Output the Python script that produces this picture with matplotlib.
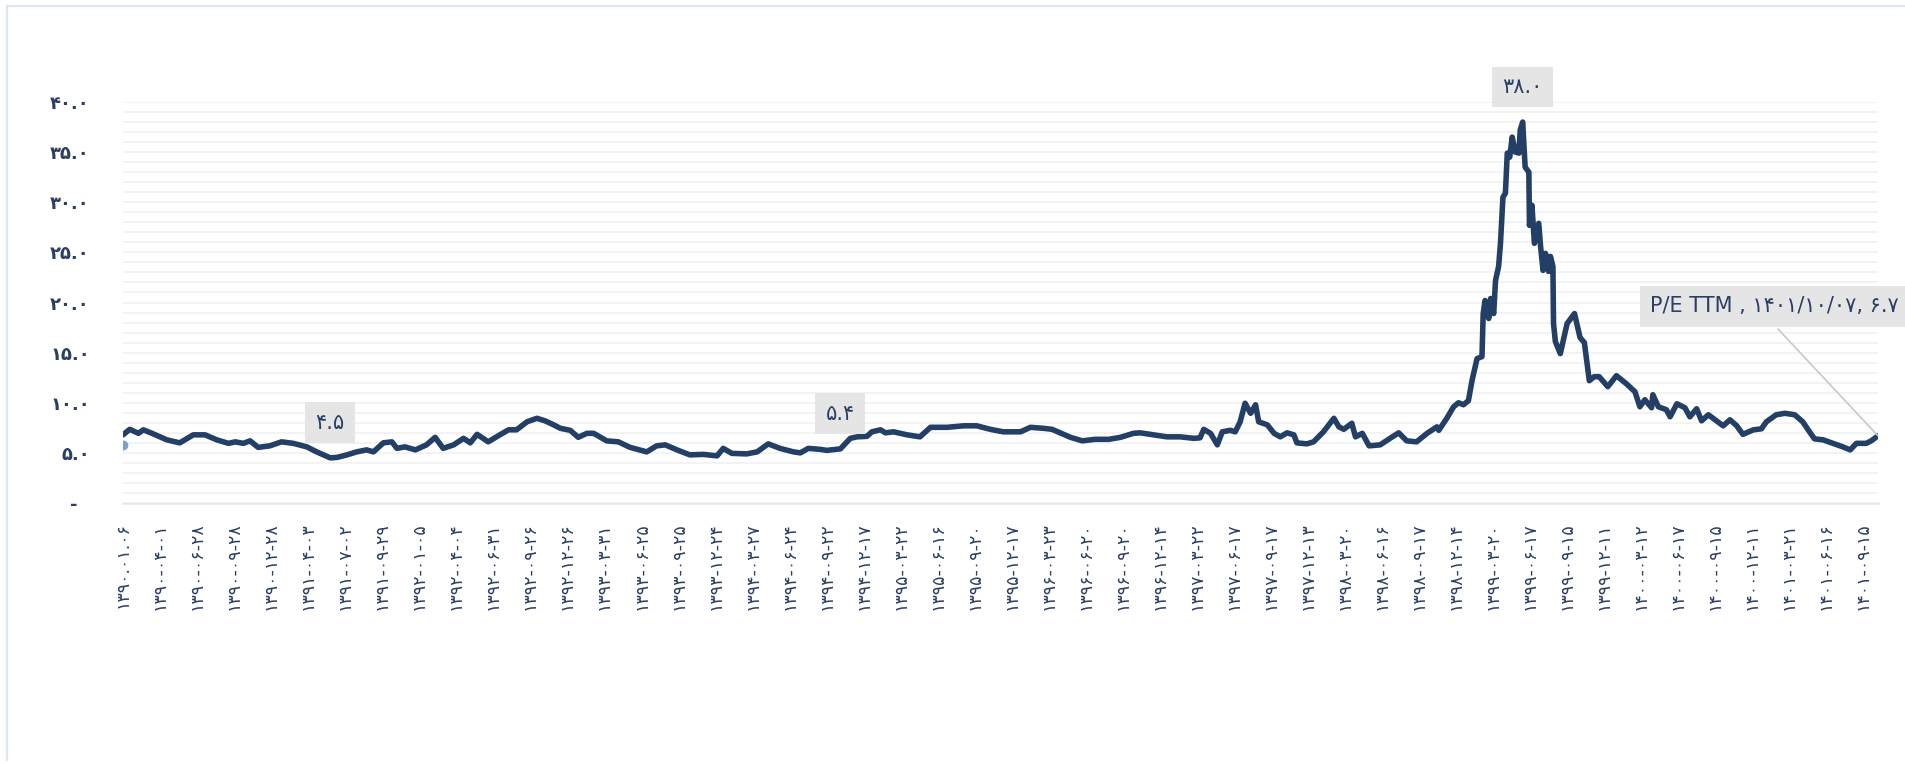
import numpy as np
import matplotlib
matplotlib.use('Agg')
import matplotlib.pyplot as plt
from matplotlib.lines import Line2D

plt.rcParams['font.family'] = ['DejaVu Sans']

FA = str.maketrans('0123456789', '۰۱۲۳۴۵۶۷۸۹')

# ---------------- data ----------------
x_labels = [
    '۱۳۹۰.۰۱.۰۶', '۱۳۹۰-۰۴-۰۱', '۱۳۹۰-۰۶-۲۸', '۱۳۹۰-۰۹-۲۸', '۱۳۹۰-۱۲-۲۸',
    '۱۳۹۱-۰۴-۰۳', '۱۳۹۱-۰۷-۰۲', '۱۳۹۱-۰۹-۲۹', '۱۳۹۲-۰۱-۰۵', '۱۳۹۲-۰۴-۰۴',
    '۱۳۹۲-۰۶-۳۱', '۱۳۹۲-۰۹-۲۶', '۱۳۹۲-۱۲-۲۶', '۱۳۹۳-۰۳-۳۱', '۱۳۹۳-۰۶-۲۵',
    '۱۳۹۳-۰۹-۲۵', '۱۳۹۳-۱۲-۲۴', '۱۳۹۴-۰۳-۲۷', '۱۳۹۴-۰۶-۲۴', '۱۳۹۴-۰۹-۲۲',
    '۱۳۹۴-۱۲-۱۷', '۱۳۹۵-۰۳-۲۲', '۱۳۹۵-۰۶-۱۶', '۱۳۹۵-۰۹-۲۰', '۱۳۹۵-۱۲-۱۷',
    '۱۳۹۶-۰۳-۲۳', '۱۳۹۶-۰۶-۲۰', '۱۳۹۶-۰۹-۲۰', '۱۳۹۶-۱۲-۱۴', '۱۳۹۷-۰۳-۲۲',
    '۱۳۹۷-۰۶-۱۷', '۱۳۹۷-۰۹-۱۷', '۱۳۹۷-۱۲-۱۳', '۱۳۹۸-۰۳-۲۰', '۱۳۹۸-۰۶-۱۶',
    '۱۳۹۸-۰۹-۱۷', '۱۳۹۸-۱۲-۱۴', '۱۳۹۹-۰۳-۲۰', '۱۳۹۹-۰۶-۱۷', '۱۳۹۹-۰۹-۱۵',
    '۱۳۹۹-۱۲-۱۱', '۱۴۰۰-۰۳-۱۲', '۱۴۰۰-۰۶-۱۷', '۱۴۰۰-۰۹-۱۵', '۱۴۰۰-۱۲-۱۱',
    '۱۴۰۱-۰۳-۲۱', '۱۴۰۱-۰۶-۱۶', '۱۴۰۱-۰۹-۱۵',
]
tick_every_days = 60

trade_day = [
    0, 11, 25, 33, 47, 60, 71, 92, 114, 133, 152, 171, 182, 195, 206, 219, 238, 257, 276, 298,
    314, 336, 347, 363, 379, 395, 406, 422, 436, 444, 457, 474, 492, 506, 519, 536, 552, 563, 574, 592,
    611, 625, 638, 655, 671, 684, 698, 709, 725, 738, 752, 763, 784, 803, 822, 849, 865, 879, 898, 919,
    941, 963, 973, 987, 1011, 1028, 1046, 1065, 1087, 1098, 1111, 1130, 1141, 1163, 1179, 1190, 1206, 1214, 1228, 1236,
    1249, 1271, 1292, 1309, 1336, 1363, 1384, 1406, 1427, 1455, 1471, 1492, 1506, 1536, 1555, 1576, 1598, 1617, 1638, 1649,
    1671, 1692, 1714, 1736, 1746, 1752, 1763, 1774, 1782, 1795, 1803, 1811, 1819, 1828, 1836, 1841, 1855, 1866, 1876, 1887,
    1898, 1903, 1919, 1930, 1946, 1963, 1971, 1979, 1992, 1998, 2009, 2020, 2038, 2054, 2068, 2081, 2097, 2114, 2130, 2133,
    2146, 2157, 2165, 2173, 2181, 2187, 2195, 2203, 2205, 2208, 2214, 2217, 2222, 2225, 2230, 2233, 2237, 2241, 2244, 2248,
    2252, 2257, 2263, 2265, 2269, 2273, 2279, 2280, 2284, 2288, 2295, 2298, 2302, 2306, 2311, 2314, 2318, 2319, 2322, 2330,
    2341, 2353, 2362, 2369, 2377, 2385, 2393, 2407, 2421, 2437, 2451, 2459, 2467, 2478, 2480, 2489, 2502, 2508, 2519, 2532,
    2540, 2551, 2559, 2570, 2581, 2594, 2605, 2616, 2626, 2643, 2656, 2664, 2680, 2694, 2710, 2723, 2734, 2742, 2756, 2772,
    2788, 2800, 2810, 2826, 2834, 2845,
]
pe_ttm = [
    6.8, 7.35, 6.95, 7.3, 6.95, 6.6, 6.3, 6.0, 6.8, 6.8, 6.3, 5.95, 6.1, 5.95, 6.2, 5.55, 5.7, 6.1, 5.95, 5.6,
    5.1, 4.5, 4.55, 4.8, 5.1, 5.3, 5.1, 6.0, 6.1, 5.45, 5.6, 5.3, 5.8, 6.55, 5.45, 5.8, 6.45, 6.0, 6.85, 6.1,
    6.8, 7.3, 7.3, 8.1, 8.45, 8.2, 7.8, 7.45, 7.25, 6.55, 6.95, 6.95, 6.2, 6.1, 5.55, 5.1, 5.7, 5.8, 5.3, 4.8,
    4.85, 4.7, 5.45, 4.95, 4.9, 5.1, 5.9, 5.45, 5.1, 5.0, 5.45, 5.35, 5.25, 5.4, 6.45, 6.6, 6.65, 7.1, 7.3, 7.0,
    7.1, 6.8, 6.6, 7.55, 7.55, 7.7, 7.7, 7.35, 7.1, 7.1, 7.55, 7.45, 7.35, 6.55, 6.2, 6.35, 6.35, 6.55, 6.95, 7.0,
    6.8, 6.6, 6.6, 6.45, 6.5, 7.35, 6.95, 5.8, 7.1, 7.25, 7.1, 8.1, 9.95, 8.95, 9.8, 8.1, 7.8, 6.95, 6.6, 7.0,
    6.8, 6.0, 5.9, 6.1, 7.1, 8.45, 7.6, 7.35, 7.95, 6.6, 6.95, 5.7, 5.8, 6.45, 7.0, 6.2, 6.1, 6.95, 7.6, 7.25,
    8.45, 9.6, 10.0, 9.8, 10.2, 12.25, 14.4, 14.6, 18.9, 20.2, 18.4, 20.4, 18.9, 22.2, 23.6, 25.9, 30.5, 30.9, 34.9, 34.5,
    36.5, 35.0, 34.9, 37.2, 38.0, 33.5, 33.0, 27.7, 29.7, 25.9, 27.9, 25.6, 23.2, 24.9, 23.1, 24.6, 23.6, 17.9, 16.1, 14.9,
    17.9, 18.9, 16.5, 16.0, 12.2, 12.6, 12.6, 11.6, 12.7, 11.9, 11.1, 9.6, 10.3, 9.5, 10.8, 9.6, 9.3, 8.6, 9.9, 9.5,
    8.6, 9.4, 8.2, 8.8, 8.3, 7.7, 8.3, 7.7, 6.85, 7.3, 7.4, 8.1, 8.8, 8.95, 8.8, 8.1, 7.1, 6.4, 6.3, 5.95,
    5.6, 5.3, 5.95, 5.95, 6.2, 6.7,
]
second_series_start = 5.8          # light blue point at the very start
annotated_days = [336, 1163, 2269]  # labelled points
last_date = '۱۴۰۱/۱۰/۰۷'
series_name = 'P/E TTM'
y_tick_values = [0, 5, 10, 15, 20, 25, 30, 35, 40]

# ---------------- styling ----------------
NAVY = '#243f66'
TEXT = '#2b3f63'
W, H = 1906, 764
fig = plt.figure(figsize=(W / 100, H / 100), dpi=100)
fig.patch.set_facecolor('white')

# outer frame (light blue)
fig.add_artist(Line2D([7 / W, 7 / W], [1 - 5.5 / H, 1 - 760 / H], transform=fig.transFigure,
                      color='#dfe7f4', lw=1.6))
fig.add_artist(Line2D([7 / W, 1.0], [1 - 5.5 / H, 1 - 5.5 / H], transform=fig.transFigure,
                      color='#dfe7f4', lw=1.6))

ax = fig.add_axes([123 / W, 1 - 503 / H, (1878 - 123) / W, (503 - 102) / H])
ax.set_facecolor('white')
for s in ax.spines.values():
    s.set_visible(False)

x = np.array(trade_day, dtype=float)
y = np.array(pe_ttm, dtype=float)

ax.set_xlim(x[0], x[-1])
ax.set_ylim(0, 40)

# grid every 1 unit
ax.set_yticks(np.arange(1, 41, 1), minor=True)
ax.set_yticks(y_tick_values)
ax.grid(True, which='both', axis='y', color='#f2f2f2', lw=1.3, zorder=0)
ax.axhline(0, color='#e6e6e6', lw=1.8, zorder=1, clip_on=False)

ylabels = []
for v in y_tick_values:
    ylabels.append('-  ' if v == 0 else f'{v:.1f}'.translate(FA))
ax.set_yticklabels(ylabels)
ax.tick_params(axis='y', which='both', length=0, pad=24, labelsize=13, labelcolor=TEXT)
for lab in ax.get_yticklabels():
    lab.set_fontweight('bold')

xt = np.arange(len(x_labels)) * tick_every_days
ax.set_xticks(xt)
ax.set_xticklabels(x_labels, rotation=90, ha='center', va='top')
ax.tick_params(axis='x', length=0, pad=14, labelsize=12.5, labelcolor=TEXT)

# series
ax.plot(x, y, color=NAVY, lw=4.0, solid_joinstyle='round', solid_capstyle='round', zorder=3)
ax.plot([x[0]], [second_series_start], 'o', color='#7f9fc4', ms=6, zorder=2)

# labelled points
for d in annotated_days:
    v = float(np.interp(d, x, y))
    ax.annotate(f'{v:.1f}'.translate(FA), xy=(d, v), xytext=(0, 18), textcoords='offset points',
                ha='center', va='bottom', fontsize=15, color=TEXT,
                bbox=dict(boxstyle='square,pad=0.5', fc='#e5e5e5', ec='none'), zorder=5)

# tooltip at last point
last_v = y[-1]
ax.annotate('', xy=(x[-1], last_v), xycoords='data', xytext=(1778, H - 329), textcoords='figure pixels',
            arrowprops=dict(arrowstyle='-', color='#c8c8c8', lw=1.2, shrinkA=0, shrinkB=0))
tip = f'{series_name} , {last_date}, {last_v:.1f}'.translate(FA)
fig.text(1650 / W, 1 - 306.5 / H, tip, ha='left', va='center', fontsize=15, color=TEXT,
         bbox=dict(boxstyle='square,pad=0.5', fc='#e5e5e5', ec='none'))

fig.savefig('out.png', dpi=100, facecolor='white')
